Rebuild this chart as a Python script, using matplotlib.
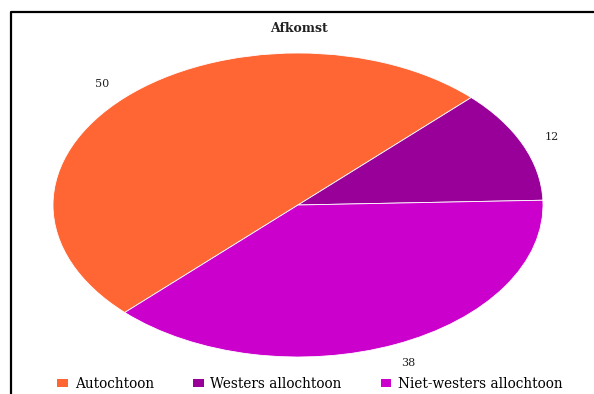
import matplotlib
matplotlib.use("Agg")
import matplotlib.pyplot as plt
from matplotlib.lines import Line2D
from matplotlib.patches import Patch

title = "Afkomst"
categories = ["Autochtoon", "Westers allochtoon", "Niet-westers allochtoon"]
values = [50, 12, 38]
colors = ["#FF6633", "#990099", "#CC00CC"]

W, H = 594, 394
plt.rcParams["font.family"] = "DejaVu Serif"
fig = plt.figure(figsize=(W / 100, H / 100), dpi=100)

# pie axes: ellipse spans x 53..543, y 53..357 (pixels from top)
ax = fig.add_axes([53 / W, 1 - 357 / H, 490 / W, 304 / H])
wedges, texts = ax.pie(
    values,
    colors=colors,
    labels=[str(v) for v in values],
    startangle=225,
    counterclock=False,
    labeldistance=1.13,
    wedgeprops=dict(edgecolor="white", linewidth=0.6),
    textprops=dict(fontsize=8, color="#222222"),
)
for t in texts:
    t.set_horizontalalignment("center")
    t.set_verticalalignment("center")
ax.set_aspect("auto")
ax.set_xlim(-1, 1)
ax.set_ylim(-1, 1)
ax.axis("off")

fig.text(299 / W, 1 - 28 / H, title, ha="center", va="center",
         fontsize=9, fontweight="bold", color="#222222")

handles = [Patch(facecolor=c, edgecolor="none") for c in colors]
fig.legend(
    handles, categories,
    loc="center", bbox_to_anchor=(310 / W, 1 - 384 / H),
    ncol=3, frameon=False, fontsize=9.8,
    handlelength=0.8, handleheight=0.5, handletextpad=0.5,
    columnspacing=2.85, borderpad=0,
)

# chart frame (left and top edges visible)
fig.add_artist(Line2D([11 / W, 11 / W, 1.0], [0.0, 1 - 12 / H, 1 - 12 / H],
                      transform=fig.transFigure, color="black", linewidth=1.6))

fig.savefig("out.png", dpi=100, facecolor="white")
